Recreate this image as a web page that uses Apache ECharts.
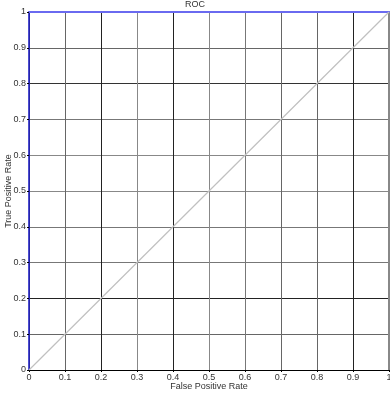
<!DOCTYPE html>
<html><head><meta charset="utf-8">
<script src="https://cdn.jsdelivr.net/npm/echarts@6/dist/echarts.min.js"></script>
<style>html,body{margin:0;padding:0;background:#fff}#c{width:390px;height:393px}</style>
</head><body><div id="c"></div>
<script>
const fpr = [0, 1];
const tpr = [0, 1];
const tickValues = [0, 0.1, 0.2, 0.3, 0.4, 0.5, 0.6, 0.7, 0.8, 0.9, 1];
const titleText = 'ROC';
const xName = 'False Positive Rate';
const yName = 'True Positive Rate';

const font = 'Liberation Sans, Arial, sans-serif';
const fmt = v => String(Math.round(v * 10) / 10);
const chart = echarts.init(document.getElementById('c'), null, {renderer: 'canvas'});
chart.setOption({
  animation: false,
  backgroundColor: '#fff',
  title: {text: titleText, left: 'center', top: 0, padding: 0,
    textStyle: {fontSize: 9, fontWeight: 'normal', color: '#333', fontFamily: font}},
  grid: {left: 29, right: 1, top: 12, bottom: 23, containLabel: false, outerBoundsMode: 'none'},
  xAxis: [{
    type: 'value', min: 0, max: 1, interval: 0.1, position: 'bottom',
    name: xName, nameLocation: 'middle', nameGap: 12, nameMoveOverlap: false,
    nameTextStyle: {fontSize: 9, color: '#333', fontFamily: font},
    axisLine: {show: true, onZero: false, lineStyle: {color: '#000', width: 1}},
    axisTick: {show: true, length: 2, lineStyle: {color: '#000'}},
    axisLabel: {fontSize: 9, color: '#333', margin: 3, fontFamily: font, formatter: fmt},
    splitLine: {show: true, lineStyle: {width: 1,
      color: ['#666', '#666', '#222', '#888', '#222', '#888', '#777', '#666', '#666', '#222', '#999']}}
  }, {
    type: 'value', min: 0, max: 1, interval: 0.1, position: 'top',
    axisLine: {show: true, onZero: false, lineStyle: {color: '#6a6af0', width: 2}},
    axisTick: {show: false}, axisLabel: {show: false}, splitLine: {show: false}
  }],
  yAxis: [{
    type: 'value', min: 0, max: 1, interval: 0.1, position: 'left',
    name: yName, nameLocation: 'middle', nameGap: 16, nameMoveOverlap: false,
    nameTextStyle: {fontSize: 9, color: '#333', fontFamily: font},
    axisLine: {show: true, onZero: false, lineStyle: {color: '#1010c0', width: 1.5}},
    axisTick: {show: true, length: 2, lineStyle: {color: '#000'}},
    axisLabel: {fontSize: 9, color: '#333', margin: 3, fontFamily: font, formatter: fmt},
    splitLine: {show: true, lineStyle: {width: 1,
      color: ['#666', '#666', '#222', '#777', '#777', '#888', '#888', '#777', '#333', '#666', '#999']}}
  }, {
    type: 'value', min: 0, max: 1, interval: 0.1, position: 'right',
    axisLine: {show: true, onZero: false, lineStyle: {color: '#888', width: 2}},
    axisTick: {show: false}, axisLabel: {show: false}, splitLine: {show: false}
  }],
  series: [{
    type: 'line', data: fpr.map((x, i) => [x, tpr[i]]),
    xAxisIndex: 0, yAxisIndex: 0, symbol: 'none',
    lineStyle: {color: '#c0c0c0', width: 1.2}
  }]
});
</script></body></html>
